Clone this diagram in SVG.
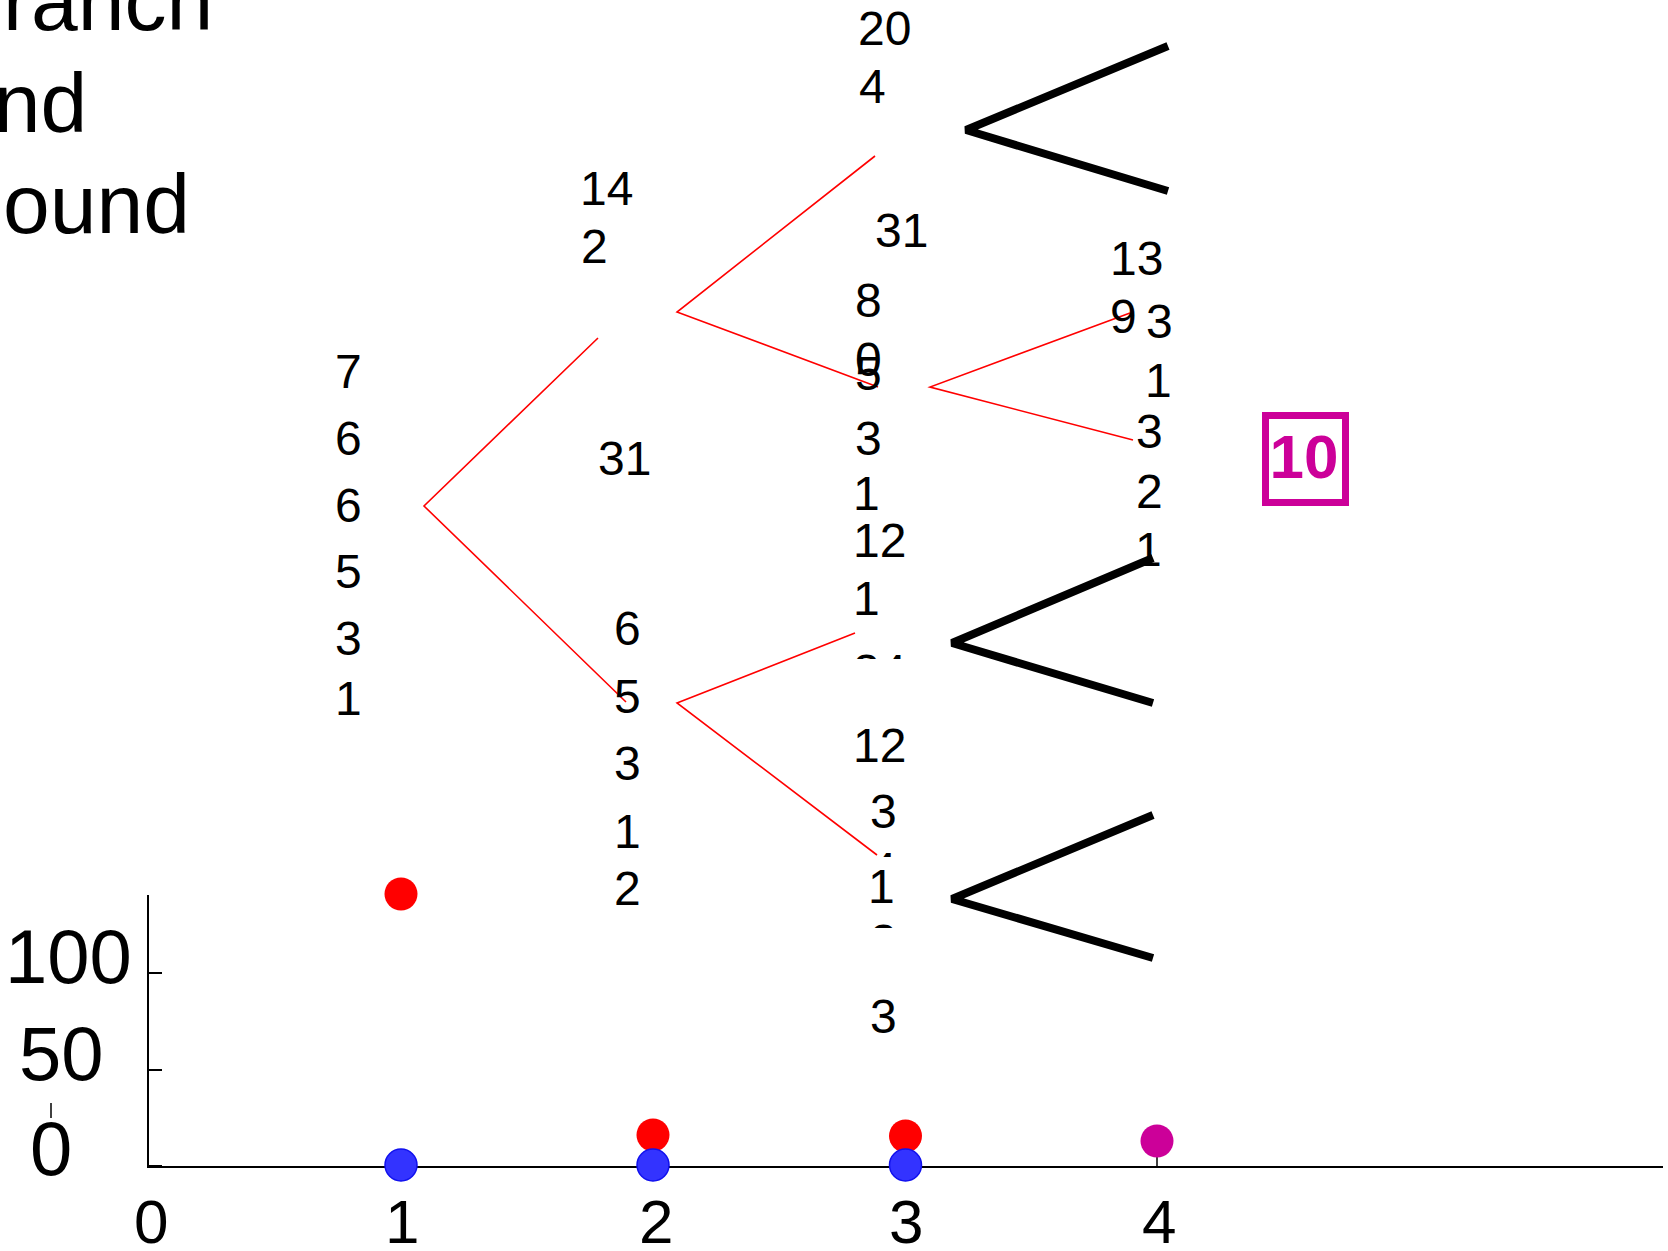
<svg xmlns="http://www.w3.org/2000/svg" width="1668" height="1251" viewBox="0 0 1668 1251">
<style>
text{font-family:"Liberation Sans",Arial,Helvetica,sans-serif;fill:#000}
.t{font-size:84px}
.n{font-size:48px}
.ax{font-size:76px}
.xl{font-size:62px}
.red{fill:none;stroke:#ff0000;stroke-width:1.6}
.blk{fill:none;stroke:#000;stroke-width:8;stroke-linejoin:bevel}
.axis{stroke:#000;stroke-width:2;fill:none}
.rd{fill:#ff0000}
.bd{fill:#3333ff;stroke:#1010ee;stroke-width:1.5}
.md{fill:#cc0099}
</style>
<defs>
<clipPath id="c24"><rect x="840" y="600" width="100" height="59"/></clipPath>
<clipPath id="c4"><rect x="860" y="820" width="60" height="37"/></clipPath>
<clipPath id="c2"><rect x="860" y="910" width="60" height="18"/></clipPath>
</defs>
<rect width="1668" height="1251" fill="#fff"/>

<g id="title">
<text class="t" x="-53" y="30">Branch</text>
<text class="t" x="-53" y="132">and</text>
<text class="t" x="-53" y="233">Bound</text>
</g>

<g id="connectors">
<polyline class="red" points="598,338 424,506 626,702"/>
<polyline class="red" points="875,156 677,312 878,387"/>
<polyline class="red" points="855,633 677,703 877,855"/>
<polyline class="red" points="1130,313 930,387 1133,440"/>
</g>

<g id="node-root">
<text class="n" x="335" y="388">7</text>
<text class="n" x="335" y="455">6</text>
<text class="n" x="335" y="522">6</text>
<text class="n" x="335" y="588">5</text>
<text class="n" x="335" y="655">3</text>
<text class="n" x="335" y="715">1</text>
</g>

<g id="node-2a">
<text class="n" x="580" y="205">14</text>
<text class="n" x="581" y="263">2</text>
</g>

<g id="node-2b">
<text class="n" x="598" y="475">31</text>
<text class="n" x="614" y="645">6</text>
<text class="n" x="614" y="713">5</text>
<text class="n" x="614" y="780">3</text>
<text class="n" x="614" y="848">1</text>
<text class="n" x="614" y="905">2</text>
</g>

<g id="node-3a">
<text class="n" x="858" y="45">20</text>
<text class="n" x="859" y="103">4</text>
</g>

<g id="node-3b">
<text class="n" x="875" y="247">31</text>
<text class="n" x="855" y="317">8</text>
<text class="n" x="855" y="376">0</text>
<text class="n" x="855" y="390">5</text>
<text class="n" x="855" y="455">3</text>
<text class="n" x="853" y="510">1</text>
</g>

<g id="node-3c">
<text class="n" x="853" y="557">12</text>
<text class="n" x="853" y="615">1</text>
<text class="n" x="853" y="688" clip-path="url(#c24)">24</text>
</g>

<g id="node-3d">
<text class="n" x="853" y="762">12</text>
<text class="n" x="870" y="828">3</text>
<text class="n" x="870" y="886" clip-path="url(#c4)">4</text>
<text class="n" x="868" y="903">1</text>
<text class="n" x="870" y="958" clip-path="url(#c2)">2</text>
<text class="n" x="870" y="1033">3</text>
</g>

<g id="node-4a">
<text class="n" x="1110" y="275">13</text>
<text class="n" x="1110" y="333">9</text>
</g>

<g id="node-4b">
<text class="n" x="1146" y="338">3</text>
<text class="n" x="1145" y="397">1</text>
<text class="n" x="1136" y="448">3</text>
<text class="n" x="1136" y="508">2</text>
<text class="n" x="1135" y="566">1</text>
</g>

<g id="pruned">
<polyline class="blk" points="1168,46 966,130 1168,191"/>
<polyline class="blk" points="1153,558 952,643 1153,703"/>
<polyline class="blk" points="1153,815 952,899 1153,958"/>
</g>

<g id="best">
<rect x="1265.5" y="415.5" width="80" height="87" fill="none" stroke="#cc0099" stroke-width="7"/>
<text x="1304" y="478" text-anchor="middle" style="font-size:62px;font-weight:bold;fill:#cc0099">10</text>
</g>

<g id="chart">
<line class="axis" x1="148" y1="895" x2="148" y2="1167"/>
<line class="axis" x1="147" y1="1167" x2="1663" y2="1167"/>
<line class="axis" x1="148" y1="973" x2="162" y2="973"/>
<line class="axis" x1="148" y1="1070" x2="162" y2="1070"/>
<line class="axis" x1="148" y1="1166" x2="162" y2="1166"/>
<line x1="51" y1="1103" x2="51" y2="1118" stroke="#000" stroke-width="1.5"/>
<line x1="1157" y1="1150" x2="1157" y2="1166" stroke="#000" stroke-width="1.5"/>
<text class="ax" x="5" y="983">100</text>
<text class="ax" x="19" y="1080">50</text>
<text class="ax" x="30" y="1175">0</text>
<text class="xl" x="134" y="1243">0</text>
<text class="xl" x="385" y="1243">1</text>
<text class="xl" x="639" y="1243">2</text>
<text class="xl" x="889" y="1243">3</text>
<text class="xl" x="1142" y="1243">4</text>
<circle class="rd" cx="401" cy="894" r="16.5"/>
<circle class="rd" cx="653" cy="1135" r="16.5"/>
<circle class="rd" cx="905.5" cy="1136" r="16.5"/>
<circle class="bd" cx="401" cy="1165" r="16"/>
<circle class="bd" cx="653" cy="1165" r="16"/>
<circle class="bd" cx="905.5" cy="1165" r="16"/>
<circle class="md" cx="1157" cy="1141" r="16.5"/>
</g>
</svg>
